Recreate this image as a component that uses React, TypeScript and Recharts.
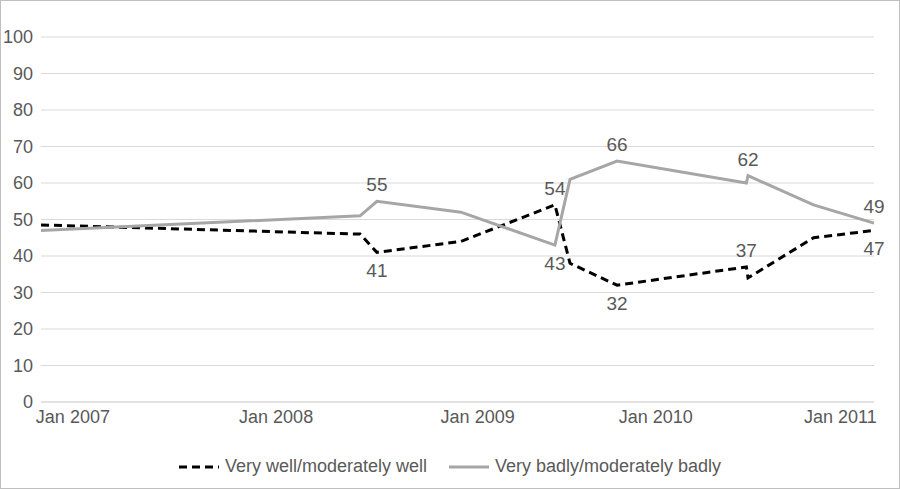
import React from 'react';
import { LineChart, Line, XAxis, YAxis, CartesianGrid } from 'recharts';

// months since Jan 2007 (approximate)
const months = [0, 19, 20, 25, 30.6, 31.5, 34.3, 42, 42.1, 46, 49.6];
const wellValues = [48.5, 46, 41, 44, 54, 38, 32, 37, 34, 45, 47];
const badlyValues = [47, 51, 55, 52, 43, 61, 66, 60, 62, 54, 49];
const xTicks = [1.9, 14, 26, 36.6, 47.6];
const xTickLabels = ['Jan 2007', 'Jan 2008', 'Jan 2009', 'Jan 2010', 'Jan 2011'];
const yTicks = [0, 10, 20, 30, 40, 50, 60, 70, 80, 90, 100];

// index -> label placement
const wellLabels: Record<number, 'above' | 'below'> = { 2: 'below', 4: 'above', 6: 'below', 7: 'above', 10: 'below' };
const badlyLabels: Record<number, 'above' | 'below'> = { 2: 'above', 4: 'below', 6: 'above', 8: 'above', 10: 'above' };

const rows = months.map((m, i) => ({ m, well: wellValues[i], badly: badlyValues[i] }));

const FONT = '"Liberation Sans", Arial, sans-serif';
const TEXT = '#595959';

const makeLabel = (places: Record<number, 'above' | 'below'>) => (props: any) => {
  const { x, y, value, index } = props;
  const p = places[index];
  if (!p) return null;
  return (
    <text x={x} y={p === 'above' ? y - 10 : y + 25} textAnchor="middle" fontSize={19} fill={TEXT} fontFamily={FONT}>
      {value}
    </text>
  );
};

export default function App() {
  return (
    <div style={{ position: 'absolute', top: 0, left: 0, width: 898, height: 487, border: '1px solid #bfbfbf', background: '#fff', fontFamily: FONT }}>
      <LineChart width={898} height={487} data={rows} margin={{ top: 36, right: 25, left: 8, bottom: 56 }}>
        <CartesianGrid vertical={false} stroke="#d9d9d9" />
        <XAxis
          dataKey="m"
          type="number"
          domain={[0, 49.6]}
          ticks={xTicks}
          tickFormatter={(v: number) => xTickLabels[xTicks.indexOf(v)]}
          axisLine={{ stroke: '#d9d9d9' }}
          tickLine={false}
          tick={{ fontSize: 18, fill: TEXT, fontFamily: FONT }}
          height={30}
          interval={0}
        />
        <YAxis
          domain={[0, 100]}
          ticks={yTicks}
          axisLine={false}
          tickLine={false}
          tick={{ fontSize: 18, fill: TEXT, fontFamily: FONT }}
          width={32}
        />
        <Line
          dataKey="well"
          stroke="#000000"
          strokeWidth={3}
          strokeDasharray="8 5"
          dot={false}
          isAnimationActive={false}
          label={makeLabel(wellLabels)}
        />
        <Line
          dataKey="badly"
          stroke="#a6a6a6"
          strokeWidth={3}
          dot={false}
          isAnimationActive={false}
          label={makeLabel(badlyLabels)}
        />
      </LineChart>
      <div style={{ position: 'absolute', top: 455, left: 0, width: 898, display: 'flex', justifyContent: 'center', gap: 22, fontSize: 18, color: TEXT }}>
        <div style={{ display: 'flex', alignItems: 'center', gap: 6 }}>
          <svg width="40" height="8"><line x1="0" y1="4" x2="40" y2="4" stroke="#000" strokeWidth="3" strokeDasharray="8 5" /></svg>
          <span>Very well/moderately well</span>
        </div>
        <div style={{ display: 'flex', alignItems: 'center', gap: 6 }}>
          <svg width="40" height="8"><line x1="0" y1="4" x2="40" y2="4" stroke="#a6a6a6" strokeWidth="3" /></svg>
          <span>Very badly/moderately badly</span>
        </div>
      </div>
    </div>
  );
}
